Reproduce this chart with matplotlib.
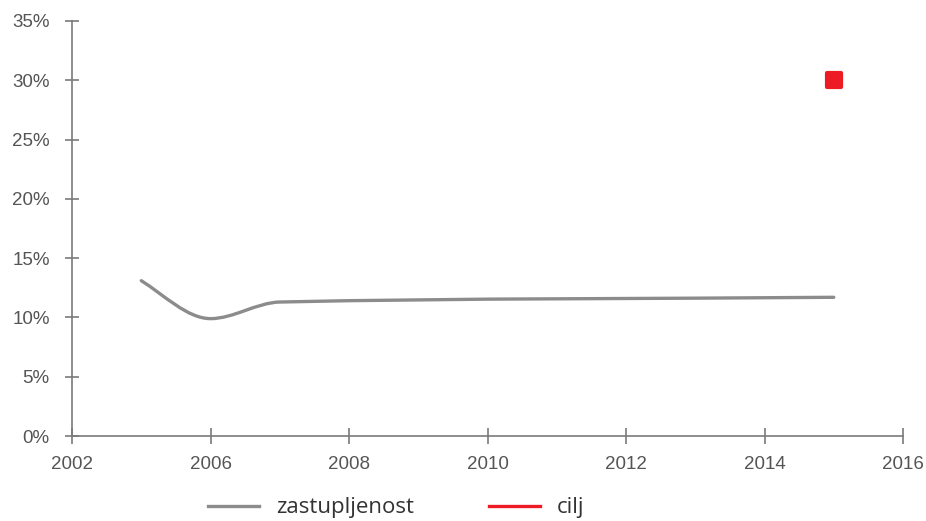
import matplotlib
matplotlib.use("Agg")
import matplotlib.pyplot as plt
from matplotlib.path import Path
from matplotlib.patches import PathPatch
from matplotlib.lines import Line2D
import numpy as np

# data
years = [2005, 2006, 2007, 2015]
share = [13.1, 9.9, 11.3, 11.7]
target_year = [2015]
target = [30]
tick_pos = [2004, 2006, 2008, 2010, 2012, 2014, 2016]
tick_labels = ["2002", "2006", "2008", "2010", "2012", "2014", "2016"]
y_ticks = [0, 5, 10, 15, 20, 25, 30, 35]

gray = "#8c8c8c"
red = "#ed1c24"
axis_col = "#7a7a7a"
text_col = "#555555"

plt.rcParams['font.family'] = ['Liberation Sans Narrow', 'Liberation Sans', 'DejaVu Sans']


def smooth_path(x, y):
    # monotone cubic (Fritsch-Carlson) drawn as bezier segments
    x = np.asarray(x, float)
    y = np.asarray(y, float)
    h = np.diff(x)
    d = np.diff(y) / h
    m = np.zeros_like(y)
    m[0] = d[0] * 1.15
    m[-1] = d[-1]
    for i in range(1, len(y) - 1):
        if d[i - 1] * d[i] <= 0:
            m[i] = 0
        else:
            w1 = 2 * h[i] + h[i - 1]
            w2 = h[i] + 2 * h[i - 1]
            m[i] = (w1 + w2) / (w1 / d[i - 1] + w2 / d[i])
    verts = [(x[0], y[0])]
    codes = [Path.MOVETO]
    for i in range(len(h)):
        verts += [(x[i] + h[i] / 3, y[i] + m[i] * h[i] / 3),
                  (x[i + 1] - h[i] / 3, y[i + 1] - m[i + 1] * h[i] / 3),
                  (x[i + 1], y[i + 1])]
        codes += [Path.CURVE4] * 3
    return Path(verts, codes)


fig = plt.figure(figsize=(9.26, 5.21), dpi=100)
ax = fig.add_axes([0.0778, 0.1631, 0.8974, 0.7966])

ax.add_patch(PathPatch(smooth_path(years, share), facecolor="none",
                       edgecolor=gray, linewidth=2.4, capstyle="round"))
ax.scatter(target_year, target, marker="s", s=110, color=red,
           edgecolors=red, linewidths=3, joinstyle="round", zorder=3)

ax.set_xlim(2004, 2016)
ax.set_ylim(0, 35)
ax.set_xticks(tick_pos)
ax.set_xticklabels(tick_labels)
ax.set_yticks(y_ticks)
ax.set_yticklabels([f"{v}%" for v in y_ticks])

for s in ["top", "right"]:
    ax.spines[s].set_visible(False)
for s in ["left", "bottom"]:
    ax.spines[s].set_color(axis_col)
    ax.spines[s].set_linewidth(1.2)

ax.tick_params(axis="y", direction="inout", length=10, width=1.2,
               color=axis_col, labelcolor=text_col, labelsize=13.5, pad=11)
ax.tick_params(axis="x", direction="inout", length=11, width=1.2,
               color=axis_col, labelcolor=text_col, labelsize=13.5, pad=9)

handles = [Line2D([], [], color=gray, linewidth=2.4),
           Line2D([], [], color=red, linewidth=2.4)]
fig.legend(handles, ["zastupljenost", "cilj"], loc="center left",
           bbox_to_anchor=(0.2246, 0.025), ncol=2, frameon=False,
           borderpad=0, borderaxespad=0,
           prop={"family": "Open Sans", "size": 16}, labelcolor="#333333",
           handlelength=2.3, handletextpad=0.75, columnspacing=3.4)

fig.savefig("out.png", dpi=100)
